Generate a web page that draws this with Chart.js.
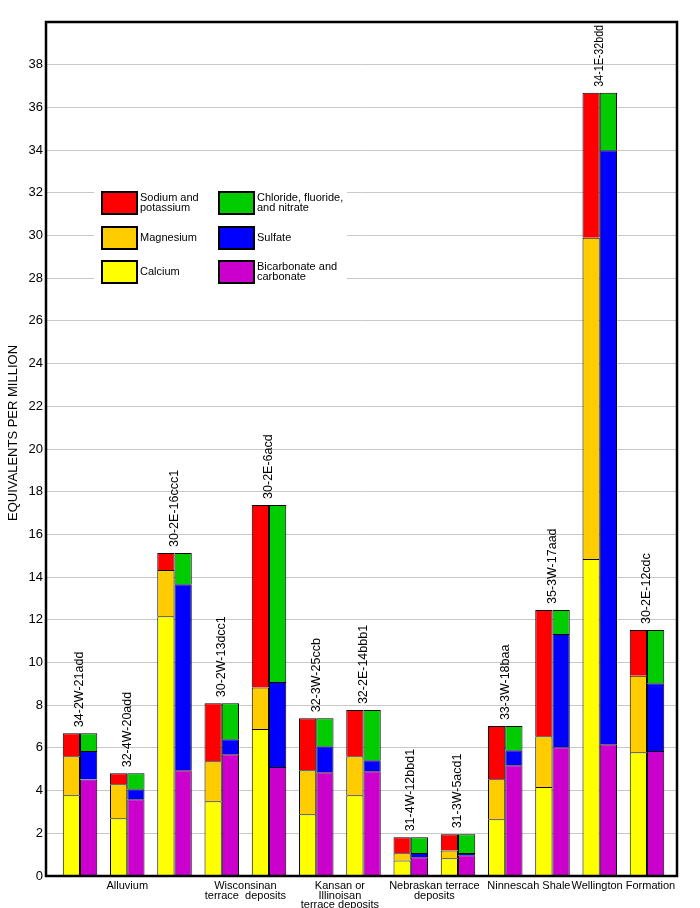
<!DOCTYPE html>
<html>
<head>
<meta charset="utf-8">
<script src="https://cdn.jsdelivr.net/npm/chart.js@4.4.1/dist/chart.umd.min.js"></script>
<style>
  html, body { margin: 0; padding: 0; background: #fff; }
</style>
</head>
<body>
<canvas id="chart" width="700" height="908"></canvas>
<script>
// Sites (one pair of bars each), in milliequivalents per liter
var sites = ['34-2W-21add', '32-4W-20add', '30-2E-16ccc1', '30-2W-13dcc1', '30-2E-6acd',
  '32-3W-25ccb', '32-2E-14bbb1', '31-4W-12bbd1', '31-3W-5acd1', '33-3W-18baa',
  '35-3W-17aad', '34-1E-32bdd', '30-2E-12cdc'];

// cations
var calcium   = [3.78, 2.70, 12.17, 3.50, 6.88, 2.89, 3.78, 0.73, 0.83, 2.66, 4.17, 14.85, 5.80];
var magnesium = [1.83, 1.60, 2.16, 1.88, 1.95, 2.06, 1.83, 0.33, 0.37, 1.87, 2.38, 15.05, 3.58];
var sodium    = [1.08, 0.51, 0.80, 2.71, 8.55, 2.44, 2.16, 0.75, 0.75, 2.49, 5.91, 6.79, 2.14];
// anions
var bicarbonate = [4.52, 3.59, 4.95, 5.70, 5.10, 4.86, 4.91, 0.88, 0.97, 5.19, 6.03, 6.17, 5.85];
var sulfate     = [1.33, 0.47, 8.72, 0.70, 3.99, 1.22, 0.51, 0.20, 0.11, 0.70, 5.30, 27.82, 3.18];
var chloride    = [0.84, 0.75, 1.46, 1.69, 8.29, 1.31, 2.35, 0.73, 0.87, 1.13, 1.13, 2.70, 2.49];

// geologic units under the x axis, centred between their sites
var groupLabels = [['Alluvium'], ['Wisconsinan', 'terrace  deposits'], ['Kansan or', 'Illinoisan', 'terrace deposits'],
  ['Nebraskan terrace', 'deposits'], ['Ninnescah Shale'], ['Wellington Formation']];
var groupCenters = [2, 4.5, 6.5, 8.5, 10.5, 12.5];

var yTitle = 'EQUIVALENTS PER MILLION';

var FONT = '"Liberation Sans", Arial, sans-serif';

function pts(arr) {
    return arr.map(function (v, i) { return { x: i + 1, y: v }; });
}

function serie(label, lines, data, color, stack) {
    return {
        label: label,
        lines: lines,
        data: pts(data),
        backgroundColor: color,
        borderColor: '#000',
        borderWidth: { top: 1, left: 1, right: 1, bottom: 0 },
        borderSkipped: false,
        stack: stack,
        categoryPercentage: 0.73,
        barPercentage: 1.0
    };
}

var datasets = [
    serie('Calcium', ['Calcium'], calcium, '#ffff00', 'cat'),
    serie('Magnesium', ['Magnesium'], magnesium, '#ffcc00', 'cat'),
    serie('Sodium and potassium', ['Sodium and', 'potassium'], sodium, '#ff0000', 'cat'),
    serie('Bicarbonate and carbonate', ['Bicarbonate and', 'carbonate'], bicarbonate, '#cc00cc', 'an'),
    serie('Sulfate', ['Sulfate'], sulfate, '#0000ff', 'an'),
    serie('Chloride, fluoride, and nitrate', ['Chloride, fluoride,', 'and nitrate'], chloride, '#00cc00', 'an')
];

function pairTop(i) {
    var c = calcium[i] + magnesium[i] + sodium[i];
    var a = bicarbonate[i] + sulfate[i] + chloride[i];
    return Math.max(c, a);
}

// site labels, y title, frame and legend box
var extras = {
    id: 'extras',
    afterDatasetsDraw: function (chart, args, opts) {
        var ctx = chart.ctx, area = chart.chartArea;
        var xs = chart.scales.x, ys = chart.scales.y;
        ctx.save();

        ctx.font = '12.5px ' + FONT;
        ctx.fillStyle = '#000';
        ctx.textAlign = 'left';
        ctx.textBaseline = 'middle';
        sites.forEach(function (s, i) {
            var px = xs.getPixelForValue(i + 1);
            var py = ys.getPixelForValue(pairTop(i)) - 6;
            ctx.save();
            ctx.translate(px, py);
            ctx.rotate(-Math.PI / 2);
            ctx.fillText(s, 0, 0, py - area.top - 3);
            ctx.restore();
        });

        // axis title, a bit above the middle like the original
        ctx.save();
        ctx.font = '13px ' + FONT;
        ctx.textAlign = 'center';
        ctx.translate(opts.titleX, (area.top + area.bottom) / 2 - 16);
        ctx.rotate(-Math.PI / 2);
        ctx.fillText(yTitle, 0, 0);
        ctx.restore();

        // legend
        var lg = opts.legend;
        ctx.fillStyle = '#fff';
        ctx.fillRect(lg.left, lg.top, lg.width, lg.height);
        ctx.font = '11px ' + FONT;
        lg.columns.forEach(function (col, c) {
            col.forEach(function (di, r) {
                var ds = chart.data.datasets[di];
                var bx = lg.boxX[c], cy = lg.rowY[r];
                ctx.fillStyle = ds.backgroundColor;
                ctx.fillRect(bx, cy - lg.boxH / 2, lg.boxW, lg.boxH);
                ctx.lineWidth = 2;
                ctx.strokeStyle = '#000';
                ctx.strokeRect(bx, cy - lg.boxH / 2, lg.boxW, lg.boxH);
                ctx.fillStyle = '#000';
                var n = ds.lines.length;
                ds.lines.forEach(function (t, k) {
                    ctx.fillText(t, bx + lg.boxW + 3, cy + (k - (n - 1) / 2) * 10);
                });
            });
        });

        ctx.lineWidth = 2.5;
        ctx.strokeStyle = '#000';
        ctx.strokeRect(area.left, area.top, area.right - area.left, area.bottom - area.top);
        ctx.restore();
    }
};

new Chart(document.getElementById('chart'), {
    type: 'bar',
    data: { datasets: datasets },
    plugins: [extras],
    options: {
        responsive: false,
        animation: false,
        layout: { padding: { top: 22, right: 23, left: 0, bottom: 0 } },
        plugins: {
            legend: { display: false },
            tooltip: { enabled: false },
            extras: {
                titleX: 13,
                legend: {
                    left: 94, top: 176, width: 253, height: 118,
                    boxX: [102, 219], rowY: [203, 238, 272], boxW: 35, boxH: 22,
                    columns: [[2, 1, 0], [5, 4, 3]]
                }
            }
        },
        scales: {
            x: {
                type: 'linear',
                stacked: true,
                offset: false,
                min: 0.28,
                max: 13.635,
                grid: { display: false, drawTicks: false, offset: false },
                border: { display: false },
                afterBuildTicks: function (scale) {
                    scale.ticks = groupCenters.map(function (v) { return { value: v }; });
                },
                afterFit: function (scale) { scale.height = 32; },
                ticks: {
                    autoSkip: false,
                    maxRotation: 0,
                    minRotation: 0,
                    padding: 5,
                    color: '#000',
                    font: { family: FONT, size: 11, lineHeight: 0.88 },
                    callback: function (v) {
                        var k = groupCenters.indexOf(v);
                        return k < 0 ? '' : groupLabels[k];
                    }
                }
            },
            y: {
                stacked: true,
                min: 0,
                max: 40,
                afterFit: function (scale) { scale.width = 46; },
                grid: { color: '#c8c8c8', drawTicks: false },
                border: { display: false },
                ticks: {
                    stepSize: 2,
                    padding: 3,
                    color: '#000',
                    font: { family: FONT, size: 13 },
                    callback: function (v) { return v >= 40 ? null : v; }
                }
            }
        }
    }
});
</script>
</body>
</html>
